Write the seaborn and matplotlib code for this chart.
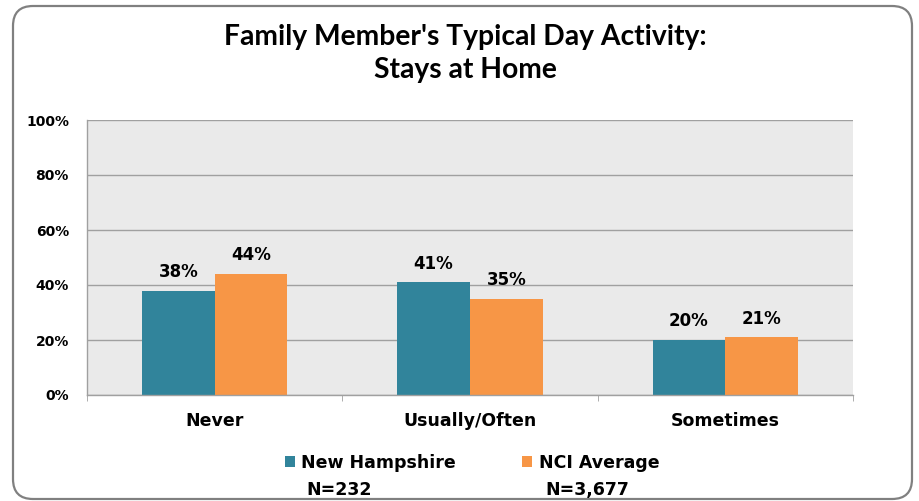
import pandas as pd
import seaborn as sns
import matplotlib.pyplot as plt
from matplotlib.patches import FancyBboxPatch
from matplotlib.ticker import FixedLocator, PercentFormatter

categories = ["Never", "Usually/Often", "Sometimes"]
groups = ["New Hampshire", "NCI Average"]
group_n = ["N=232", "N=3,677"]
nh_values = [38, 41, 20]
nci_values = [44, 35, 21]
y_ticks = [0, 20, 40, 60, 80, 100]

colors = ["#31849B", "#F79646"]

df = pd.DataFrame({
    "category": categories * 2,
    "group": [groups[0]] * 3 + [groups[1]] * 3,
    "value": nh_values + nci_values,
})

sns.set_style("white")
plt.rcParams["font.family"] = ["DejaVu Sans"]
plt.rcParams["font.weight"] = "bold"
plt.rcParams["text.color"] = "black"
plt.rcParams["xtick.labelcolor"] = "black"
plt.rcParams["ytick.labelcolor"] = "black"

fig = plt.figure(figsize=(9.19, 5.01), dpi=100)
ax = fig.add_axes([87 / 919, 1 - 395 / 501, 766 / 919, 275 / 501])

sns.barplot(data=df, x="category", y="value", hue="group", order=categories,
            hue_order=groups, palette=colors, width=0.57, gap=0, saturation=1,
            edgecolor="none", ax=ax, legend=True)

ax.set_facecolor("#EAEAEA")
ax.set_ylim(0, 100)
ax.set_xlim(-0.5, 2.5)
ax.yaxis.set_major_locator(FixedLocator(y_ticks))
ax.yaxis.set_major_formatter(PercentFormatter(decimals=0))
ax.grid(axis="y", color="#A0A0A0", linewidth=1)
ax.set_axisbelow(True)
ax.set_xlabel("")
ax.set_ylabel("")

for side in ["top", "right"]:
    ax.spines[side].set_visible(False)
for side in ["left", "bottom"]:
    ax.spines[side].set_color("#A0A0A0")
    ax.spines[side].set_linewidth(1)

ax.tick_params(axis="y", length=4, color="#A0A0A0", pad=9, labelsize=10)
ax.tick_params(axis="x", which="major", length=0, pad=12.5, labelsize=12.5)
ax.xaxis.set_minor_locator(FixedLocator([-0.5, 0.5, 1.5, 2.5]))
ax.tick_params(axis="x", which="minor", length=4, color="#A0A0A0", bottom=True)
for lbl in ax.get_xticklabels() + ax.get_yticklabels():
    lbl.set_fontweight("bold")

for cont in ax.containers:
    ax.bar_label(cont, fmt="%d%%", padding=7, fontsize=12, fontweight="bold")

fig.suptitle("Family Member's Typical Day Activity:\nStays at Home", y=0.952,
             x=465 / 919, fontsize=20.3, fontweight="bold", family="Lato",
             linespacing=1.32, color="black")

handles, labels = ax.get_legend_handles_labels()
ax.get_legend().remove()
leg = fig.legend(handles, labels, loc="center", bbox_to_anchor=(472 / 919, 1 - 463 / 501),
                 ncol=2, frameon=False, handlelength=0.6, handleheight=0.6,
                 handletextpad=0.35, columnspacing=3.8,
                 prop={"size": 12.5, "weight": "bold"})

n_offsets = [5, 7]
fig.canvas.draw()
for txt, n_label, dx in zip(leg.get_texts(), group_n, n_offsets):
    bb = txt.get_window_extent()
    fig.text(bb.x0 + dx, bb.y0 - 27, n_label, transform=None, fontsize=12.5,
             fontweight="bold", ha="left", va="bottom")

border = FancyBboxPatch((13, 2), 899, 493, boxstyle="round,pad=0,rounding_size=20",
                        transform=None, fill=False, edgecolor="#808080", linewidth=1.6)
fig.patches.append(border)

fig.savefig("out.png", dpi=100)
